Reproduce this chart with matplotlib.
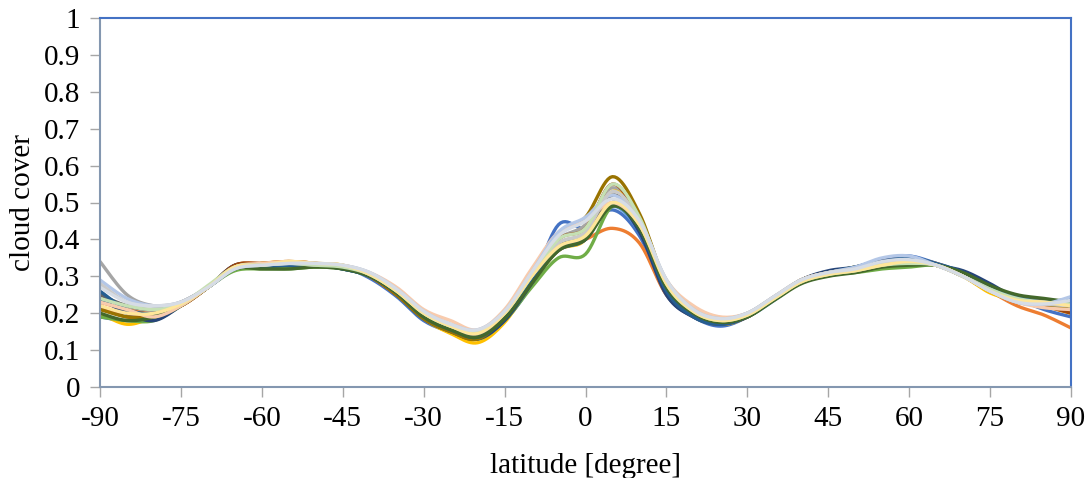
import numpy as np
import matplotlib
matplotlib.use("Agg")
import matplotlib.pyplot as plt

plt.rcParams['font.family'] = ['Liberation Serif', 'DejaVu Serif']
plt.rcParams['axes.unicode_minus'] = False

latitude = list(range(-90, 91, 5))

# cloud cover per model run, read at every 5 degrees
s01 = [0.19,0.18,0.19,0.22,0.27,0.33,0.33,0.325,0.33,0.325,0.295,0.245,0.18,0.15,0.135,0.18,0.28,0.44,0.43,0.48,0.41,0.25,0.19,0.165,0.19,0.24,0.29,0.31,0.325,0.345,0.355,0.335,0.31,0.275,0.24,0.21,0.19]
s02 = [0.23,0.21,0.2,0.22,0.27,0.33,0.335,0.34,0.335,0.325,0.3,0.25,0.19,0.16,0.14,0.19,0.29,0.37,0.40,0.43,0.39,0.25,0.19,0.17,0.19,0.24,0.29,0.31,0.32,0.34,0.345,0.335,0.305,0.26,0.22,0.195,0.16]
s03 = [0.34,0.25,0.22,0.225,0.27,0.325,0.33,0.335,0.33,0.325,0.3,0.26,0.2,0.165,0.15,0.2,0.3,0.40,0.44,0.54,0.45,0.28,0.21,0.185,0.2,0.245,0.29,0.31,0.32,0.335,0.34,0.33,0.3,0.27,0.24,0.23,0.22]
s04 = [0.2,0.17,0.19,0.22,0.27,0.325,0.335,0.34,0.335,0.33,0.3,0.25,0.185,0.145,0.12,0.175,0.28,0.37,0.40,0.53,0.45,0.27,0.2,0.17,0.19,0.24,0.29,0.31,0.325,0.34,0.345,0.33,0.3,0.255,0.235,0.22,0.2]
s05 = [0.21,0.2,0.2,0.225,0.27,0.32,0.33,0.33,0.33,0.32,0.3,0.255,0.19,0.155,0.135,0.19,0.29,0.38,0.41,0.49,0.42,0.26,0.195,0.175,0.19,0.235,0.285,0.305,0.315,0.33,0.335,0.33,0.3,0.26,0.23,0.22,0.21]
s06 = [0.19,0.18,0.18,0.22,0.27,0.315,0.32,0.32,0.325,0.32,0.3,0.26,0.195,0.16,0.13,0.18,0.27,0.35,0.36,0.49,0.44,0.27,0.2,0.175,0.195,0.24,0.285,0.305,0.31,0.32,0.325,0.33,0.31,0.27,0.245,0.23,0.22]
s07 = [0.24,0.2,0.18,0.22,0.27,0.33,0.33,0.33,0.33,0.32,0.3,0.25,0.185,0.15,0.13,0.18,0.28,0.38,0.40,0.50,0.42,0.25,0.19,0.17,0.19,0.24,0.29,0.315,0.325,0.345,0.35,0.33,0.315,0.28,0.24,0.225,0.225]
s08 = [0.22,0.19,0.2,0.22,0.27,0.33,0.335,0.34,0.335,0.325,0.3,0.25,0.19,0.155,0.14,0.19,0.29,0.40,0.43,0.55,0.45,0.27,0.2,0.175,0.19,0.24,0.29,0.31,0.32,0.34,0.34,0.33,0.305,0.27,0.24,0.22,0.2]
s09 = [0.25,0.22,0.21,0.23,0.27,0.32,0.33,0.335,0.33,0.325,0.3,0.255,0.195,0.16,0.14,0.19,0.29,0.38,0.41,0.52,0.44,0.27,0.2,0.18,0.195,0.24,0.285,0.31,0.32,0.335,0.34,0.33,0.3,0.265,0.24,0.235,0.23]
s10 = [0.21,0.19,0.19,0.22,0.27,0.325,0.33,0.335,0.33,0.325,0.3,0.25,0.185,0.15,0.13,0.19,0.29,0.41,0.46,0.57,0.47,0.28,0.2,0.175,0.19,0.24,0.29,0.31,0.32,0.335,0.34,0.33,0.3,0.26,0.235,0.225,0.21]
s11 = [0.26,0.21,0.2,0.225,0.27,0.32,0.325,0.33,0.33,0.32,0.3,0.255,0.19,0.155,0.135,0.185,0.285,0.37,0.40,0.50,0.43,0.26,0.19,0.17,0.19,0.24,0.29,0.31,0.325,0.34,0.35,0.335,0.31,0.27,0.245,0.23,0.24]
s12 = [0.2,0.18,0.19,0.22,0.27,0.32,0.32,0.32,0.325,0.32,0.3,0.255,0.19,0.155,0.135,0.185,0.28,0.37,0.40,0.49,0.43,0.27,0.2,0.175,0.19,0.235,0.28,0.3,0.31,0.325,0.33,0.33,0.31,0.275,0.25,0.24,0.23]
s13 = [0.23,0.21,0.19,0.22,0.27,0.325,0.335,0.34,0.335,0.33,0.31,0.27,0.21,0.18,0.155,0.21,0.32,0.42,0.45,0.50,0.44,0.29,0.22,0.19,0.2,0.245,0.29,0.31,0.32,0.335,0.34,0.33,0.3,0.26,0.23,0.215,0.21]
s14 = [0.29,0.24,0.22,0.23,0.27,0.32,0.33,0.335,0.335,0.33,0.31,0.265,0.205,0.17,0.155,0.205,0.31,0.42,0.46,0.52,0.45,0.29,0.21,0.185,0.2,0.245,0.29,0.31,0.325,0.35,0.355,0.33,0.3,0.26,0.23,0.225,0.245]
s15 = [0.28,0.23,0.22,0.23,0.27,0.325,0.33,0.335,0.33,0.33,0.305,0.26,0.2,0.165,0.15,0.2,0.3,0.39,0.42,0.53,0.45,0.29,0.21,0.185,0.2,0.245,0.29,0.31,0.32,0.335,0.34,0.33,0.3,0.265,0.235,0.225,0.22]
s16 = [0.24,0.22,0.21,0.225,0.275,0.325,0.33,0.335,0.33,0.325,0.305,0.26,0.2,0.165,0.15,0.2,0.3,0.40,0.43,0.55,0.46,0.28,0.205,0.18,0.195,0.24,0.285,0.305,0.315,0.33,0.335,0.33,0.3,0.265,0.24,0.23,0.225]
s17 = [0.22,0.2,0.2,0.225,0.27,0.325,0.33,0.34,0.335,0.33,0.305,0.26,0.2,0.165,0.145,0.2,0.3,0.38,0.41,0.50,0.44,0.28,0.205,0.18,0.195,0.24,0.285,0.305,0.315,0.33,0.34,0.33,0.3,0.26,0.235,0.23,0.22]
s18 = [0.27,0.23,0.22,0.23,0.27,0.32,0.33,0.335,0.335,0.33,0.31,0.265,0.205,0.17,0.155,0.205,0.31,0.41,0.45,0.51,0.45,0.29,0.21,0.185,0.2,0.245,0.29,0.31,0.32,0.34,0.345,0.33,0.3,0.26,0.23,0.225,0.235]

series = [s01, s02, s03, s04, s05, s06, s07, s08, s09, s10, s11, s12,
          s13, s14, s15, s16, s17, s18]
colors = ['#4472C4', '#ED7D31', '#A5A5A5', '#FFC000', '#5B9BD5', '#70AD47',
          '#264478', '#9E480E', '#636363', '#997300', '#255E91', '#43682B',
          '#F8CBAD', '#B4C7E7', '#C9C9C9', '#C5E0B4', '#FFE699', '#D6DCE5']


def smooth(x, y, n=12):
    # Excel-style smoothed line (Catmull-Rom through the points)
    x = np.asarray(x, float)
    y = np.asarray(y, float)
    px = np.concatenate([[x[0]], x, [x[-1]]])
    py = np.concatenate([[y[0]], y, [y[-1]]])
    xs, ys = [], []
    t = np.linspace(0, 1, n, endpoint=False)
    for i in range(1, len(px) - 2):
        for p, out in ((px, xs), (py, ys)):
            p0, p1, p2, p3 = p[i - 1], p[i], p[i + 1], p[i + 2]
            out.extend(0.5 * (2 * p1 + (-p0 + p2) * t
                              + (2 * p0 - 5 * p1 + 4 * p2 - p3) * t ** 2
                              + (-p0 + 3 * p1 - 3 * p2 + p3) * t ** 3))
    xs.append(x[-1])
    ys.append(y[-1])
    return xs, ys


fig = plt.figure(figsize=(10.91, 4.78), dpi=100)
ax = fig.add_axes([100 / 1091, 91 / 478, 971 / 1091, 369 / 478])

for vals, c in zip(series, colors):
    xs, ys = smooth(latitude, vals)
    ax.plot(xs, ys, color=c, lw=2.4, solid_capstyle='round')

ax.set_xlim(-90, 90)
ax.set_ylim(0, 1)
ax.set_xticks(range(-90, 91, 15))
ax.set_yticks(np.arange(0, 1.01, 0.1))
ax.set_yticklabels(['0', '0.1', '0.2', '0.3', '0.4', '0.5', '0.6', '0.7', '0.8', '0.9', '1'])
ax.tick_params(direction='out', length=7, width=1, colors='#A6A6A6', labelsize=21,
               labelcolor='black', pad=7)
ax.spines['left'].set_color('#8497B0')
ax.spines['bottom'].set_color('#8497B0')
ax.spines['top'].set_color('#4472C4')
ax.spines['right'].set_color('#4472C4')
for s in ax.spines.values():
    s.set_linewidth(1.5)

ax.set_xlabel('latitude [degree]', fontsize=21, labelpad=15)
ax.set_ylabel('cloud cover', fontsize=21, labelpad=6)

fig.savefig('out.png', dpi=100)
